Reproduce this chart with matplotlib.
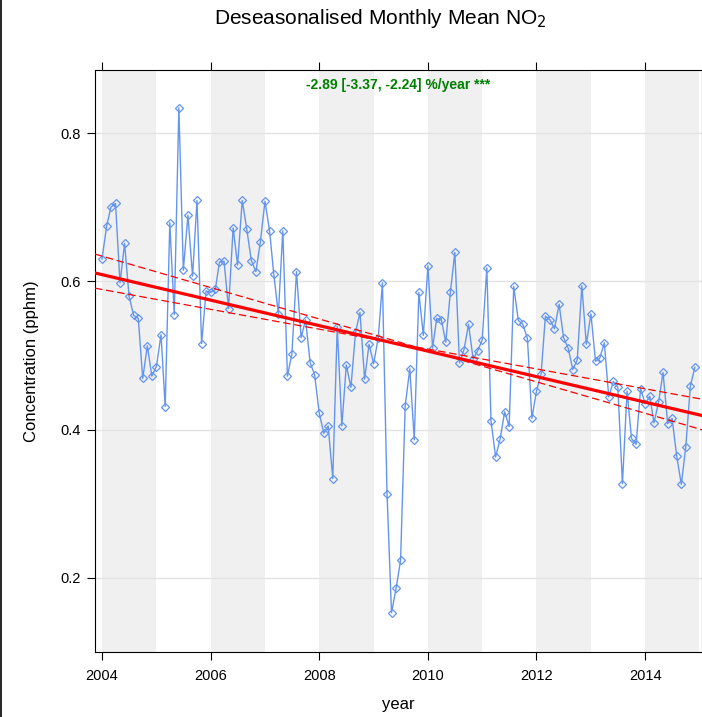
import pandas as pd
import matplotlib.pyplot as plt
import matplotlib.dates as mdates
from matplotlib.lines import Line2D

plt.rcParams['font.family'] = ['Liberation Sans', 'DejaVu Sans']

# Data bulanan (deseasonalised), Jan 2004 - Des 2014
conc_2004 = [0.630, 0.674, 0.700, 0.705, 0.598, 0.651, 0.580, 0.554, 0.550, 0.469, 0.513, 0.472]
conc_2005 = [0.485, 0.528, 0.431, 0.679, 0.555, 0.834, 0.615, 0.689, 0.607, 0.709, 0.516, 0.587]
conc_2006 = [0.585, 0.589, 0.626, 0.627, 0.563, 0.672, 0.622, 0.709, 0.670, 0.628, 0.613, 0.653]
conc_2007 = [0.708, 0.668, 0.610, 0.556, 0.668, 0.472, 0.502, 0.613, 0.524, 0.548, 0.490, 0.474]
conc_2008 = [0.422, 0.395, 0.405, 0.334, 0.539, 0.405, 0.487, 0.457, 0.531, 0.558, 0.468, 0.515]
conc_2009 = [0.489, 0.524, 0.598, 0.313, 0.153, 0.186, 0.224, 0.432, 0.482, 0.386, 0.585, 0.527]
conc_2010 = [0.621, 0.510, 0.550, 0.548, 0.518, 0.586, 0.639, 0.490, 0.508, 0.542, 0.495, 0.506]
conc_2011 = [0.521, 0.618, 0.412, 0.363, 0.387, 0.424, 0.404, 0.593, 0.547, 0.542, 0.523, 0.415]
conc_2012 = [0.452, 0.475, 0.553, 0.548, 0.536, 0.569, 0.524, 0.510, 0.481, 0.494, 0.594, 0.515]
conc_2013 = [0.556, 0.492, 0.496, 0.517, 0.444, 0.465, 0.457, 0.327, 0.452, 0.388, 0.380, 0.455]
conc_2014 = [0.435, 0.445, 0.409, 0.437, 0.477, 0.408, 0.415, 0.364, 0.326, 0.377, 0.459, 0.484]

conc = (conc_2004 + conc_2005 + conc_2006 + conc_2007 + conc_2008 + conc_2009
        + conc_2010 + conc_2011 + conc_2012 + conc_2013 + conc_2014)
dates = pd.date_range('2004-01-01', periods=len(conc), freq='MS')

# Garis trend Theil-Sen: nilai di awal 2004 dan slope per tahun
trend_start = 0.609
trend_slope = -0.0172
ci_start = [0.634, 0.589]
ci_slope = [-0.0212, -0.0134]
trend_label = '-2.89 [-3.37, -2.24] %/year ***'

fig = plt.figure(figsize=(7.02, 7.17), dpi=100)
ax = fig.add_axes([95/702, 1 - 652/717, 1 - 95/702, (652 - 70)/717])

# pita abu-abu tiap 2 tahun
for yr in range(2004, 2016, 2):
    ax.axvspan(pd.Timestamp(f'{yr}-01-01'), pd.Timestamp(f'{yr + 1}-01-01'),
               color='#f0f0f0', lw=0, zorder=0)

ax.grid(axis='y', color='#e3e3e3', lw=1, zorder=1)
ax.set_axisbelow(True)

ax.plot(dates, conc, color='#6495ED', lw=1, marker='D', ms=4.2,
        mfc='none', mec='#6495ED', mew=0.9, zorder=3)

# garis trend (pakai axline supaya panjang penuh)
x0 = mdates.date2num(pd.Timestamp('2004-01-01'))
ax.axline((x0, trend_start), slope=trend_slope / 365.25, color='red', lw=2.3, zorder=4)
for s, sl in zip(ci_start, ci_slope):
    ax.axline((x0, s), slope=sl / 365.25, color='red', lw=0.9, ls=(0, (6, 3)), zorder=4)

ax.set_xlim(pd.Timestamp('2003-11-15'), pd.Timestamp('2015-01-18'))
ax.set_ylim(0.1, 0.885)
ax.set_yticks([0.2, 0.4, 0.6, 0.8])
ax.xaxis.set_major_locator(mdates.YearLocator(2))
ax.xaxis.set_major_formatter(mdates.DateFormatter('%Y'))
ax.tick_params(axis='both', direction='out', length=6, labelsize=10.5, color='black')
ax.tick_params(axis='x', top=True, pad=6)
ax.tick_params(axis='y', right=False, pad=4)

ax.text(0.5, 0.987, trend_label, transform=ax.transAxes, ha='center', va='top',
        color='#007f00', fontsize=10, fontweight='bold')

ax.set_xlabel('year', fontsize=12, labelpad=10)
ax.set_ylabel('Concentration (pphm)', fontsize=12, labelpad=16)
fig.text(380/702, 1 - 18/717, 'Deseasonalised Monthly Mean NO$_2$', ha='center', va='center', fontsize=15)

# garis tepi kiri
fig.add_artist(Line2D([0.001, 0.001], [0, 1], color='black', lw=1.2))

plt.savefig('out.png')
